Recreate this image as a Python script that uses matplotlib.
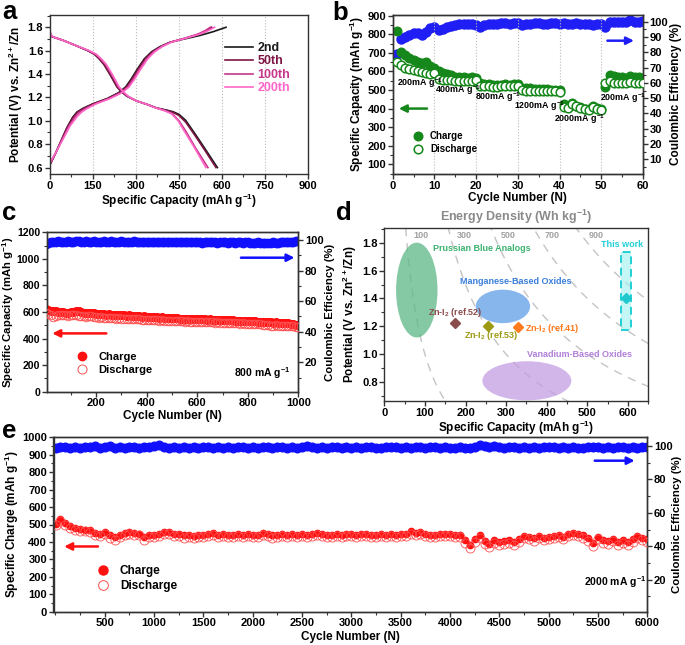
import numpy as np
import matplotlib
matplotlib.use('Agg')
import matplotlib.pyplot as plt
from matplotlib.patches import Ellipse, Rectangle
from matplotlib.lines import Line2D
from matplotlib.ticker import MultipleLocator

plt.rcParams['font.family'] = ['Liberation Sans', 'DejaVu Sans']
plt.rcParams['font.weight'] = 'bold'
plt.rcParams['axes.labelweight'] = 'bold'
plt.rcParams['mathtext.fontset'] = 'custom'
plt.rcParams['mathtext.rm'] = 'Liberation Sans:bold'
plt.rcParams['mathtext.it'] = 'Liberation Sans:bold:italic'
plt.rcParams['mathtext.bf'] = 'Liberation Sans:bold'
plt.rcParams['mathtext.default'] = 'rm'

# ---------------- Panel a data ----------------
cycle_labels_a = ['2nd', '50th', '100th', '200th']
colors_a = ['#1a1a1a', '#7d1545', '#c8368a', '#ff66c8']

chg_cap_2 = [0, 20, 40, 60, 80, 95, 115, 150, 200, 240, 265, 285, 305, 330, 355, 385, 420, 470, 524, 570, 615]
chg_v_2 = [0.62, 0.72, 0.83, 0.94, 1.03, 1.075, 1.105, 1.145, 1.19, 1.24, 1.29, 1.36, 1.44, 1.53, 1.59, 1.635, 1.672, 1.70, 1.73, 1.762, 1.80]
chg_cap_50 = [0, 20, 40, 60, 82, 97, 118, 152, 202, 243, 268, 288, 308, 333, 358, 388, 420, 470, 520, 545, 565]
chg_v_50 = [0.62, 0.72, 0.83, 0.94, 1.03, 1.075, 1.105, 1.145, 1.19, 1.24, 1.29, 1.36, 1.44, 1.53, 1.59, 1.635, 1.672, 1.705, 1.74, 1.765, 1.80]
chg_cap_100 = [0, 22, 44, 66, 90, 105, 125, 158, 207, 248, 273, 293, 313, 338, 362, 390, 422, 470, 520, 545, 560]
chg_v_100 = [0.63, 0.73, 0.84, 0.95, 1.035, 1.075, 1.105, 1.145, 1.19, 1.24, 1.29, 1.36, 1.44, 1.53, 1.59, 1.635, 1.672, 1.705, 1.745, 1.775, 1.80]
chg_cap_200 = [0, 24, 48, 72, 97, 112, 130, 162, 210, 252, 277, 297, 317, 342, 366, 393, 424, 472, 522, 552, 575]
chg_v_200 = [0.64, 0.74, 0.85, 0.96, 1.04, 1.075, 1.105, 1.145, 1.19, 1.24, 1.29, 1.36, 1.44, 1.53, 1.59, 1.635, 1.672, 1.705, 1.74, 1.77, 1.80]

dis_cap_2 = [0, 3, 8, 20, 45, 90, 133, 156, 173, 190, 212, 235, 252, 270, 303, 340, 372, 410, 430, 451, 474, 508, 542, 585]
dis_v_2 = [1.76, 1.74, 1.72, 1.71, 1.69, 1.645, 1.60, 1.57, 1.53, 1.48, 1.39, 1.29, 1.245, 1.21, 1.17, 1.14, 1.11, 1.09, 1.078, 1.055, 1.005, 0.885, 0.76, 0.60]
dis_cap_50 = [0, 3, 8, 20, 45, 90, 133, 156, 173, 190, 212, 235, 252, 270, 303, 340, 372, 410, 430, 451, 474, 508, 542, 580]
dis_v_50 = [1.76, 1.74, 1.72, 1.71, 1.69, 1.645, 1.60, 1.57, 1.53, 1.48, 1.39, 1.29, 1.245, 1.21, 1.17, 1.14, 1.11, 1.088, 1.072, 1.045, 0.99, 0.87, 0.745, 0.60]
dis_cap_100 = [0, 3, 8, 20, 45, 90, 136, 160, 178, 196, 218, 240, 256, 272, 303, 340, 372, 405, 428, 451, 474, 508, 552]
dis_v_100 = [1.76, 1.74, 1.72, 1.71, 1.69, 1.645, 1.60, 1.57, 1.53, 1.48, 1.39, 1.29, 1.245, 1.21, 1.17, 1.14, 1.11, 1.085, 1.06, 1.0, 0.914, 0.771, 0.60]
dis_cap_200 = [0, 3, 8, 20, 45, 90, 138, 162, 180, 198, 220, 242, 258, 274, 303, 340, 370, 402, 425, 448, 470, 505, 545]
dis_v_200 = [1.77, 1.75, 1.725, 1.71, 1.69, 1.645, 1.60, 1.57, 1.53, 1.48, 1.39, 1.29, 1.245, 1.21, 1.17, 1.14, 1.11, 1.085, 1.06, 1.0, 0.91, 0.77, 0.60]

# ---------------- Panel b data ----------------
cycles_b = list(range(1, 61))
charge_b = [815, 704, 690, 672, 662, 652, 645, 648, 628, 620,
            600, 590, 585, 578, 572, 570, 568, 566, 568, 565,
            535, 532, 530, 528, 528, 527, 530, 528, 530, 532,
            512, 510, 508, 506, 505, 504, 503, 502, 501, 498,
            422, 412, 428, 416, 408, 400, 395, 414, 404, 395,
            515, 578, 575, 570, 568, 566, 576, 572, 568, 566]
discharge_b = [648, 632, 620, 612, 606, 600, 596, 592, 588, 590,
               560, 556, 554, 552, 551, 550, 550, 550, 551, 552,
               522, 520, 519, 518, 518, 519, 520, 521, 520, 522,
               498, 497, 496, 496, 495, 494, 494, 493, 492, 488,
               409, 405, 425, 412, 405, 396, 391, 410, 400, 390,
               540, 548, 540, 538, 538, 540, 542, 540, 538, 540]
ce_b = [79.0, 88.5, 90.2, 91.0, 92.4, 92.5, 91.5, 93.0, 96.0, 96.5,
        94.5, 95.5, 96.7, 97.0, 97.8, 98.2, 98.3, 98.3, 98.2, 98.0,
        96.7, 98.0, 98.5, 98.8, 98.8, 99.0, 99.0, 98.8, 99.0, 99.0,
        97.8, 98.8, 98.8, 99.0, 99.0, 98.8, 98.8, 99.0, 99.0, 98.8,
        99.0, 98.8, 98.8, 99.0, 98.8, 98.2, 98.8, 98.0, 98.8, 98.8,
        96.5, 99.6, 99.8, 99.5, 99.5, 99.8, 101.3, 99.5, 99.5, 100.3]
rate_labels_b = ['200mA g$^{-1}$', '400mA g$^{-1}$', '800mA g$^{-1}$',
                 '1200mA g$^{-1}$', '2000mA g$^{-1}$', '200mA g$^{-1}$']

# ---------------- Panel c data ----------------
cycles_c = [1] + list(range(10, 1001, 10))
charge_c = [620, 615, 608, 604, 606, 602, 598, 600, 596, 594, 598,
            602, 605, 604, 598, 592, 590, 594, 596, 590, 586,
            584, 586, 582, 580, 583, 580, 578, 576, 578, 575,
            574, 572, 574, 571, 569, 570, 568, 566, 567, 565,
            564, 562, 563, 560, 558, 559, 557, 556, 555, 553,
            552, 553, 551, 550, 549, 550, 548, 547, 548, 546,
            545, 546, 544, 543, 544, 542, 541, 542, 540, 539,
            540, 538, 537, 538, 536, 535, 534, 535, 533, 531,
            530, 531, 529, 527, 528, 525, 524, 523, 522, 520,
            521, 518, 519, 516, 514, 515, 512, 510, 505, 500]
discharge_c = [592, 585, 575, 565, 572, 578, 580, 576, 574, 572, 575,
               578, 576, 572, 570, 568, 566, 570, 568, 562, 560,
               558, 560, 557, 556, 558, 555, 553, 551, 552, 550,
               549, 548, 549, 546, 545, 546, 544, 542, 543, 541,
               540, 539, 540, 537, 536, 537, 535, 534, 533, 532,
               531, 532, 530, 529, 528, 529, 527, 526, 527, 525,
               524, 525, 523, 522, 523, 521, 520, 521, 519, 518,
               519, 517, 516, 517, 515, 514, 513, 514, 512, 510,
               509, 510, 508, 506, 507, 504, 502, 500, 498, 497,
               499, 496, 498, 497, 495, 496, 494, 492, 490, 487]
ce_c = [97.6, 98.2, 98.6, 98.9, 98.7, 99.0, 98.8, 98.6, 98.9, 99.1, 98.8,
        98.7, 99.0, 99.2, 98.9, 98.8, 99.0, 98.7, 98.9, 99.1, 98.8,
        98.6, 98.9, 99.0, 98.7, 98.8, 99.1, 98.9, 98.6, 98.8, 99.0,
        98.7, 98.9, 98.6, 98.8, 99.0, 98.7, 98.9, 98.8, 98.6, 98.9,
        98.7, 98.5, 98.8, 98.9, 98.6, 98.7, 98.9, 98.5, 98.7, 98.8,
        98.6, 98.4, 98.7, 98.8, 98.5, 98.6, 98.8, 98.4, 98.6, 98.7,
        98.5, 98.3, 98.6, 98.7, 98.4, 98.5, 98.7, 98.3, 98.5, 98.6,
        98.4, 98.2, 98.5, 98.6, 98.3, 98.4, 98.6, 98.2, 98.4, 98.5,
        98.3, 98.1, 98.3, 98.5, 98.2, 98.3, 98.2, 98.0, 98.2, 98.4,
        98.3, 98.2, 98.5, 98.7, 98.4, 98.6, 98.9, 98.7, 99.0, 99.2]

# ---------------- Panel d data ----------------
region_names = ['Prussian Blue Analogs', 'Manganese-Based Oxides', 'Vanadium-Based Oxides']
region_cap_center = [80, 292, 351]
region_v_center = [1.46, 1.343, 0.81]
region_cap_width = [102, 134, 219]
region_v_height = [0.68, 0.24, 0.28]
region_colors = ['#5cb886', '#5f9ee8', '#c49de2']
region_text_colors = ['#3cb371', '#3a7fdc', '#b07fd8']
ref_names = ['Zn-I$_2$ (ref.52)', 'Zn-I$_2$ (ref.53)', 'Zn-I$_2$ (ref.41)']
ref_cap = [175, 255, 329]
ref_v = [1.222, 1.203, 1.197]
ref_colors = ['#8b4c4c', '#9c9a10', '#ff7a1c']
this_cap = 594
this_v = 1.404
this_cap_range = [583.6, 606.6]
this_v_range = [1.173, 1.733]
energy_levels = [100, 300, 500, 700, 900]

# ---------------- Panel e data ----------------
cycles_e = [1] + list(range(50, 6001, 50))
discharge_e = [495,
               520, 500, 480, 468, 462, 460, 455, 440, 435, 445,
               425, 412, 430, 442, 445, 440, 438, 410, 428, 428,
               432, 445, 448, 436, 432, 425, 428, 420, 430, 428,
               435, 438, 430, 432, 426, 430, 434, 428, 432, 430,
               428, 440, 436, 425, 430, 433, 428, 432, 430, 434,
               428, 436, 440, 432, 428, 426, 432, 428, 434, 432,
               430, 436, 432, 428, 430, 432, 428, 434, 430, 432,
               436, 448, 442, 446, 432, 430, 428, 434, 436, 432,
               430, 428, 395, 365, 400, 425, 390, 372, 395, 380,
               388, 395, 385, 400, 420, 415, 408, 425, 410, 415,
               420, 428, 418, 432, 440, 435, 425, 405, 375, 415,
               395, 388, 405, 380, 395, 385, 400, 425, 412, 400]
charge_e = [505,
            530, 510, 490, 478, 472, 470, 466, 452, 446, 455,
            438, 426, 440, 452, 455, 452, 448, 430, 440, 440,
            444, 455, 456, 446, 444, 438, 440, 434, 442, 440,
            446, 450, 442, 444, 440, 442, 446, 440, 444, 442,
            440, 452, 448, 438, 442, 446, 440, 444, 442, 446,
            440, 448, 452, 444, 440, 438, 444, 440, 446, 444,
            442, 448, 444, 440, 442, 444, 440, 446, 442, 444,
            448, 460, 454, 456, 444, 442, 440, 446, 448, 444,
            442, 440, 410, 385, 415, 438, 405, 390, 410, 398,
            404, 410, 402, 414, 432, 428, 420, 436, 424, 428,
            432, 440, 430, 444, 452, 448, 438, 420, 395, 428,
            410, 404, 418, 398, 410, 402, 414, 436, 425, 414]
ce_e = [98.5,
        99.2, 99.6, 99.0, 99.4, 98.8, 99.5, 99.1, 99.7, 99.0, 99.3,
        100.2, 99.0, 99.4, 98.9, 99.5, 99.2, 99.0, 99.6, 99.3, 99.8,
        100.3, 99.5, 98.9, 99.2, 98.6, 99.4, 99.0, 99.3, 98.8, 99.2,
        99.5, 98.9, 99.3, 99.0, 99.4, 98.8, 99.2, 99.5, 99.0, 99.3,
        98.9, 99.4, 99.1, 98.8, 99.2, 99.5, 99.0, 99.3, 98.9, 99.6,
        100.1, 99.3, 99.0, 99.2, 98.8, 99.4, 99.1, 98.9, 99.3, 99.0,
        99.4, 98.9, 99.2, 99.5, 99.0, 98.8, 99.3, 99.1, 99.4, 99.0,
        99.2, 98.9, 99.3, 99.1, 98.8, 99.2, 99.5, 99.0, 99.3, 98.6,
        98.9, 99.2, 98.7, 99.0, 99.5, 100.4, 100.2, 99.6, 99.8, 99.2,
        99.0, 99.5, 99.1, 98.8, 99.3, 99.0, 99.4, 98.9, 99.2, 99.5,
        99.1, 98.8, 99.3, 99.0, 99.4, 99.0, 98.9, 99.3, 99.1, 99.2,
        98.9, 99.3, 99.0, 99.4, 99.1, 98.8, 99.2, 99.0, 99.3, 99.6]

# ---------------- Figure ----------------
W, H = 685, 645
fig = plt.figure(figsize=(W / 100, H / 100), dpi=100)


def px_axes(l, t, r, b):
    return fig.add_axes([l / W, 1 - b / H, (r - l) / W, (b - t) / H])


SPINE = '#333333'
TICK_FS = 8
LAB_FS = 8.5


def style(ax):
    ax.tick_params(which='major', direction='out', length=3.5, width=1, labelsize=TICK_FS,
                   pad=1.2, color=SPINE)
    ax.tick_params(which='minor', direction='out', length=2, width=0.8, color=SPINE)
    for s in ax.spines.values():
        s.set_linewidth(1.0)
        s.set_color(SPINE)


# ---- a ----
ax = px_axes(49.7, 15, 307.7, 174)
chg_caps = [chg_cap_2, chg_cap_50, chg_cap_100, chg_cap_200]
chg_vs = [chg_v_2, chg_v_50, chg_v_100, chg_v_200]
dis_caps = [dis_cap_2, dis_cap_50, dis_cap_100, dis_cap_200]
dis_vs = [dis_v_2, dis_v_50, dis_v_100, dis_v_200]
for i in range(4):
    ax.plot(chg_caps[i], chg_vs[i], color=colors_a[i], lw=1.2, label=cycle_labels_a[i])
    ax.plot(dis_caps[i], dis_vs[i], color=colors_a[i], lw=1.2)
ax.set_xlim(0, 900)
ax.set_ylim(0.545, 1.905)
ax.xaxis.set_major_locator(MultipleLocator(150))
ax.xaxis.set_minor_locator(MultipleLocator(75))
ax.yaxis.set_major_locator(MultipleLocator(0.2))
ax.yaxis.set_minor_locator(MultipleLocator(0.1))
ax.grid(axis='x', which='major', ls=':', color='#bbbbbb', lw=0.8)
style(ax)
ax.set_xlabel('Specific Capacity (mAh g$^{-1}$)', fontsize=LAB_FS, labelpad=1)
ax.set_ylabel('Potential (V) vs. Zn$^{2+}$/Zn', fontsize=LAB_FS, labelpad=2)
leg = ax.legend(loc='upper left', bbox_to_anchor=(0.656, 0.87), frameon=False, fontsize=9,
                handlelength=2.2, labelspacing=0.12, handletextpad=0.4, borderpad=0)
for t, c in zip(leg.get_texts(), colors_a):
    t.set_color(c)

# ---- b ----
ax = px_axes(392.7, 14.7, 643, 174)
ax2 = ax.twinx()
GREEN = '#16871a'
ax.plot(cycles_b, discharge_b, 'o', ms=6.2, mfc='white', mec=GREEN, mew=1.1, zorder=3)
ax.plot(cycles_b, charge_b, 'o', ms=6.2, color=GREEN, zorder=2)
ax2.plot(cycles_b, ce_b, 'o', ms=6.5, color='#1e1ef5', zorder=3)
ax.set_xlim(0, 60)
ax.set_ylim(48, 905)
ax2.set_ylim(0.4, 104.6)
ax.xaxis.set_major_locator(MultipleLocator(10))
ax.xaxis.set_minor_locator(MultipleLocator(5))
ax.set_yticks(range(100, 901, 100))
ax.yaxis.set_minor_locator(MultipleLocator(50))
ax2.set_yticks(range(10, 101, 10))
ax2.yaxis.set_minor_locator(MultipleLocator(5))
ax.grid(axis='x', which='major', ls=':', color='#bbbbbb', lw=0.8)
style(ax)
style(ax2)
ax.set_xlabel('Cycle Number (N)', fontsize=LAB_FS, labelpad=1)
ax.set_ylabel('Specific Capacity (mAh g$^{-1}$)', fontsize=LAB_FS, labelpad=1)
ax2.set_ylabel('Coulombic Efficiency (%)', fontsize=LAB_FS, labelpad=1)
rate_pos_b = [(6.5, 537), (15.7, 498), (25.3, 459), (35.3, 412), (44.9, 341), (55.2, 457)]
for (x, y), s in zip(rate_pos_b, rate_labels_b):
    ax.text(x, y, s, fontsize=6.4, ha='center', va='center', zorder=5)
ax.annotate('', xy=(0.8, 400), xytext=(8.9, 400),
            arrowprops=dict(arrowstyle='-|>', color=GREEN, lw=1.8, mutation_scale=11))
ax2.annotate('', xy=(58.5, 87.6), xytext=(50.8, 87.6),
             arrowprops=dict(arrowstyle='-|>', color='#1e1ef5', lw=1.8, mutation_scale=11))
hb = [Line2D([], [], ls='none', marker='o', ms=6.2, color=GREEN),
      Line2D([], [], ls='none', marker='o', ms=6.2, mfc='white', mec=GREEN, mew=1.1)]
ax.legend(hb, ['Charge', 'Discharge'], loc='upper left', bbox_to_anchor=(0.062, 0.30),
          frameon=False, fontsize=7, handlelength=1.0, handletextpad=0.75,
          labelspacing=0.3, borderpad=0)
ax.set_zorder(ax2.get_zorder() + 1)
ax.patch.set_visible(False)

# ---- c ----
RED = '#ff1010'
BLUE = '#1010ff'
ax = px_axes(46.7, 232.3, 298.3, 391.7)
ax2 = ax.twinx()
ax2.plot(cycles_c, ce_c, 'o', ms=6, color=BLUE)
ax.plot(cycles_c, charge_c, 'o', ms=5.5, color=RED, zorder=2)
ax.plot(cycles_c, discharge_c, 'o', ms=6.2, mfc='none', mec='#ff5050', mew=0.6, zorder=3)
ax.set_xlim(4, 1000)
ax.set_ylim(0, 1200)
ax2.set_ylim(0.8, 105)
ax.set_xticks(range(200, 1001, 200))
ax.xaxis.set_minor_locator(MultipleLocator(100))
ax.set_yticks(range(0, 1201, 200))
ax.yaxis.set_minor_locator(MultipleLocator(100))
ax2.set_yticks(range(20, 101, 20))
ax2.yaxis.set_minor_locator(MultipleLocator(10))
style(ax)
style(ax2)
ax.tick_params(axis='y', labelsize=7.6)
ax.set_xlabel('Cycle Number (N)', fontsize=LAB_FS, labelpad=1)
ax.set_ylabel('Specific Capacity (mAh g$^{-1}$)', fontsize=8.2, labelpad=0.5)
ax2.set_ylabel('Coulombic Efficiency (%)', fontsize=8.2, labelpad=1)
ax.text(857, 138, '800 mA g$^{-1}$', fontsize=7.5, ha='center', va='center')
ax.annotate('', xy=(15, 439), xytext=(251, 439),
            arrowprops=dict(arrowstyle='-|>', color=RED, lw=1.8, mutation_scale=11))
ax2.annotate('', xy=(996, 88.4), xytext=(762, 88.4),
             arrowprops=dict(arrowstyle='-|>', color=BLUE, lw=1.8, mutation_scale=11))
hc = [Line2D([], [], ls='none', marker='o', ms=6, color=RED),
      Line2D([], [], ls='none', marker='o', ms=6.5, mfc='none', mec='#ff5050', mew=0.7)]
ax.legend(hc, ['Charge', 'Discharge'], loc='upper left', bbox_to_anchor=(0.0946, 0.285),
          frameon=False, fontsize=8, handlelength=1.0, handletextpad=1.0,
          labelspacing=0.25, borderpad=0)
ax.set_zorder(ax2.get_zorder() + 1)
ax.patch.set_visible(False)

# ---- d ----
ax = px_axes(384.3, 228.3, 648.3, 401)
ax.set_xlim(0, 650)
ax.set_ylim(0.665, 1.903)
cap_line = np.linspace(20, 650, 400)
for e in energy_levels:
    ax.plot(cap_line, e / cap_line, ls=(0, (6, 5)), color='#c4c4c4', lw=1.0, zorder=1)
    ax.text(e / 1.853 + 36, 1.853, str(e), fontsize=6.5, color='#a0a0a0', ha='center', va='center')
for i in range(3):
    ax.add_patch(Ellipse((region_cap_center[i], region_v_center[i]), region_cap_width[i],
                         region_v_height[i], facecolor=region_colors[i], alpha=0.75,
                         edgecolor='none', zorder=2))
region_text_pos = [(240, 1.76), (324, 1.519), (481, 1.0)]
for (x, y), s, c in zip(region_text_pos, region_names, region_text_colors):
    ax.text(x, y, s, fontsize=6.5, color=c, ha='center', va='center', zorder=5)
for i in range(3):
    ax.errorbar([ref_cap[i]], [ref_v[i]], xerr=[5], yerr=[0.015], fmt='D', ms=5,
                color=ref_colors[i], elinewidth=1, capsize=0, zorder=4)
ax.text(174, 1.299, ref_names[0], fontsize=6.5, color=ref_colors[0], ha='center', va='center')
ax.text(263, 1.132, ref_names[1], fontsize=6.5, color=ref_colors[1], ha='center', va='center')
ax.text(347, 1.184, ref_names[2], fontsize=6.5, color=ref_colors[2], ha='left', va='center')
ax.add_patch(Rectangle((this_cap_range[0], this_v_range[0]), this_cap_range[1] - this_cap_range[0],
                       this_v_range[1] - this_v_range[0], facecolor='#9ff0f0', alpha=0.6,
                       edgecolor='none', zorder=3))
ax.add_patch(Rectangle((this_cap_range[0], this_v_range[0]), this_cap_range[1] - this_cap_range[0],
                       this_v_range[1] - this_v_range[0], facecolor='none', edgecolor='#22d0d6',
                       lw=1.4, ls=(0, (4, 2.5)), zorder=3))
ax.errorbar([this_cap], [this_v], xerr=[8], fmt='D', ms=5, color='#1ec8cc', elinewidth=1,
            capsize=0, zorder=4)
ax.text(586, 1.789, 'This work', fontsize=6.5, color='#22d0d6', ha='center', va='center')
ax.xaxis.set_major_locator(MultipleLocator(100))
ax.xaxis.set_minor_locator(MultipleLocator(50))
ax.yaxis.set_major_locator(MultipleLocator(0.2))
ax.yaxis.set_minor_locator(MultipleLocator(0.1))
style(ax)
ax.set_xlabel('Specific Capacity (mAh g$^{-1}$)', fontsize=LAB_FS, labelpad=1)
ax.set_ylabel('Potential (V vs. Zn$^{2+}$/Zn)', fontsize=LAB_FS, labelpad=2)
ax.set_title('Energy Density (Wh kg$^{-1}$)', fontsize=9, color='#8a8a8a', pad=5,
             fontweight='bold')

# ---- e ----
ax = px_axes(53.5, 437.3, 647.3, 611.7)
ax2 = ax.twinx()
ax2.plot(cycles_e, ce_e, 'o', ms=6.2, color=BLUE)
ax.plot(cycles_e, charge_e, 'o', ms=4.5, color=RED, zorder=2)
ax.plot(cycles_e, discharge_e, 'o', ms=6.5, mfc='none', mec='#ff5050', mew=0.6, zorder=3)
ax.set_xlim(-20, 6000)
ax.set_ylim(0, 1000)
ax2.set_ylim(0.8, 105.2)
ax.set_xticks(range(500, 6001, 500))
ax.xaxis.set_minor_locator(MultipleLocator(250))
ax.set_yticks(range(0, 1001, 100))
ax.yaxis.set_minor_locator(MultipleLocator(50))
ax2.set_yticks(range(20, 101, 20))
ax2.yaxis.set_minor_locator(MultipleLocator(10))
style(ax)
style(ax2)
ax.set_xlabel('Cycle Number (N)', fontsize=LAB_FS, labelpad=2)
ax.set_ylabel('Specific Charge (mAh g$^{-1}$)', fontsize=LAB_FS, labelpad=1)
ax2.set_ylabel('Coulombic Efficiency (%)', fontsize=8.2, labelpad=0)
ax.text(5674, 169, '2000 mA g$^{-1}$', fontsize=7.5, ha='center', va='center')
ax.annotate('', xy=(60, 374), xytext=(459, 374),
            arrowprops=dict(arrowstyle='-|>', color=RED, lw=1.8, mutation_scale=11))
ax2.annotate('', xy=(5900, 91.2), xytext=(5439, 91.2),
             arrowprops=dict(arrowstyle='-|>', color=BLUE, lw=1.8, mutation_scale=11))
he = [Line2D([], [], ls='none', marker='o', ms=6.5, color=RED),
      Line2D([], [], ls='none', marker='o', ms=7, mfc='none', mec='#ff5050', mew=0.7)]
ax.legend(he, ['Charge', 'Discharge'], loc='upper left', bbox_to_anchor=(0.0628, 0.303),
          frameon=False, fontsize=8.5, handlelength=1.0, handletextpad=0.97,
          labelspacing=0.3, borderpad=0)
ax.set_zorder(ax2.get_zorder() + 1)
ax.patch.set_visible(False)

# panel letters
for s, x, y in [('a', 2, 0), ('b', 332, 0.5), ('c', 2, 201), ('d', 336, 201), ('e', 2, 419)]:
    fig.text(x / W, 1 - y / H, s, fontsize=18.5, fontweight='bold', ha='left', va='top')

fig.savefig('out.png', dpi=100)
